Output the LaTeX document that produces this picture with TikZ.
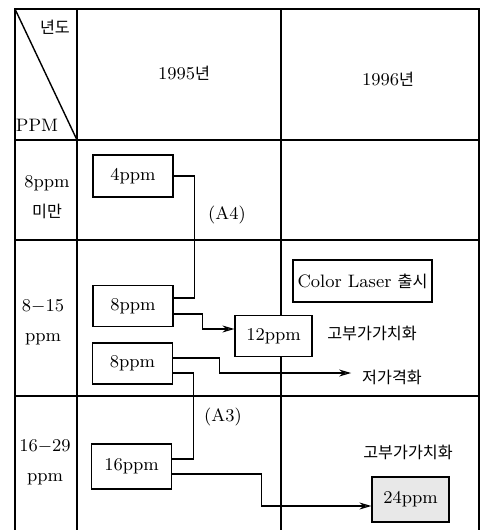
\documentclass[tikz,border=0pt]{standalone}
\usepackage{fontspec}
\newfontfamily\kr{Noto Sans CJK KR}[Scale=0.9]
\usetikzlibrary{arrows.meta}
\begin{document}
\begin{tikzpicture}[x=0.5pt,y=-0.5pt,font=\fontsize{9}{15}\selectfont,
grid/.style={line width=0.7pt},
ppmbox/.style={draw,fill=white,line width=0.6pt,minimum width=40pt,minimum height=20.5pt,inner sep=1pt},
link/.style={line width=0.6pt},
arr/.style={line width=0.6pt,-{Stealth[length=6pt,width=3.5pt,fill=gray]}}
]
\useasboundingbox (0,0) rectangle (481,530);
% table
\draw[grid] (15,530) -- (15,9) -- (479,9) -- (479,530);
\draw[grid] (77,9) -- (77,530) (281,9) -- (281,530);
\draw[grid] (15,140) -- (479,140) (15,240) -- (479,240) (15,396) -- (479,396);
\draw[grid] (15,9) -- (77,140);
% headers
\node[inner sep=0] (hyear) at (55,27) {\kr 년도};
\node[inner sep=0] (hppm) at (37,125) {PPM};
\node (y95) at (184,73) {1995{\kr 년}};
\node (y96) at (388,79) {1996{\kr 년}};
\node[align=center] (r1) at (47,197) {8ppm\\{\kr 미만}};
\node[align=center] (r2) at (43,322) {8$-$15\\ppm};
\node[align=center] (r3) at (45,462) {16$-$29\\ppm};
% boxes
\node[ppmbox,minimum height=21pt] (p4) at (133,176) {4ppm};
\node[ppmbox] (p8a) at (133,306) {8ppm};
\node[ppmbox] (p8b) at (132.5,363.5) {8ppm};
\node[ppmbox,minimum height=22.5pt] (p16) at (131.5,466.5) {16ppm};
\node[ppmbox,minimum width=38.5pt] (p12) at (273.5,336) {12ppm};
\node[ppmbox,minimum width=38.5pt,minimum height=22.5pt,fill=gray!18] (p24) at (410.5,499.5) {24ppm};
\node[ppmbox,minimum width=69.5pt,minimum height=21pt] (laser) at (362.5,281) {Color Laser {\kr 출시}};
% labels
\node (a4) at (227,215) {(A4)};
\node (a3) at (223,417) {(A3)};
\node (hv1) at (372,333) {\kr 고부가가치화};
\node (low) at (392,377) {\kr 저가격화};
\node (hv2) at (408,452) {\kr 고부가가치화};
% connectors
\draw[link] (p4.east) -- ++(21,0) |- ([yshift=4pt]p8a.east);
\draw[arr] ([yshift=-4pt]p8a.east) -- ++(29,0) |- ([yshift=3.5pt]p12.west);
\draw[arr,shorten >=2pt] ([yshift=2.75pt]p8b.east) -- ++(46,0) |- ([yshift=2pt]low.west);
\draw[link] ([yshift=-4.75pt]p8b.east) -- ++(20,0) |- ([yshift=3.75pt]p16.east);
\draw[arr] ([yshift=-3.75pt]p16.east) -- ++(89,0) |- ([yshift=-3.25pt]p24.west);
\end{tikzpicture}
\end{document}
